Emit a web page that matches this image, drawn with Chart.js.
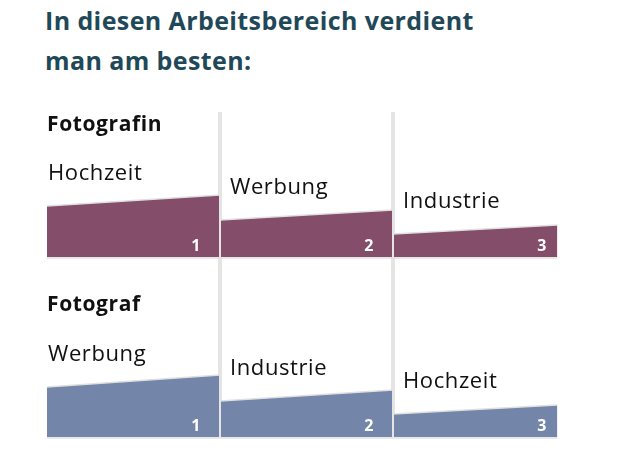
<!DOCTYPE html>
<html>
<head>
<meta charset="utf-8">
<script src="https://cdn.jsdelivr.net/npm/chart.js@4.4.1/dist/chart.umd.min.js"></script>
<style>
  html, body { margin: 0; padding: 0; background: #fff; }
  .wrap { position: relative; width: 618px; height: 456px; }
  h1 { position: absolute; left: 45px; top: 0; margin: 0; font: bold 25px/40px "Open Sans", sans-serif; letter-spacing: 0.4px; color: #1f4858; }
  canvas { position: absolute; left: 0; top: 0; }
</style>
</head>
<body>
<div class="wrap">
  <h1>In diesen Arbeitsbereich verdient<br>man am besten:</h1>
  <canvas id="rankChart" width="618" height="456"></canvas>
</div>
<script>
// Daten
const panels = ["Fotografin", "Fotograf"];
const bereicheFotografin = ["Hochzeit", "Werbung", "Industrie"];
const bereicheFotograf = ["Werbung", "Industrie", "Hochzeit"];
const raenge = ["1", "2", "3"];
const spaltenStart = [0, 1, 2];
const spaltenEnde = [1, 2, 2.95];
const fotografinLinks = [51, 37, 23];
const fotografinRechts = [62, 47, 32];
const fotografLinks = [50, 36, 23];
const fotografRechts = [62, 47, 32];
const farben = ["#844d6a", "#7485aa"];

const panelDaten = [
  { name: panels[0], bereiche: bereicheFotografin, links: fotografinLinks, rechts: fotografinRechts, achse: "yOben", farbe: farben[0] },
  { name: panels[1], bereiche: bereicheFotograf, links: fotografLinks, rechts: fotografRechts, achse: "yUnten", farbe: farben[1] },
];

const datasets = [];
panelDaten.forEach((p) => {
  spaltenStart.forEach((start, i) => {
    datasets.push({
      data: [{ x: start, y: p.links[i] }, { x: spaltenEnde[i], y: p.rechts[i] }],
      yAxisID: p.achse,
      fill: "origin",
      backgroundColor: p.farbe,
      borderColor: "#e0e0e0",
      borderWidth: 1.5,
      pointRadius: 0,
      tension: 0,
    });
  });
});

const trenner = (ctx, x, top, bottom, breite) => {
  ctx.save();
  ctx.strokeStyle = "#e4e4e4";
  ctx.lineWidth = breite;
  ctx.beginPath();
  ctx.moveTo(x, top);
  ctx.lineTo(x, bottom);
  ctx.stroke();
  ctx.restore();
};

// Beschriftungen und Trennlinien
const beschriftung = {
  id: "beschriftung",
  beforeDatasetsDraw(chart) {
    const { ctx, chartArea, scales } = chart;
    [1, 2].forEach((v) => trenner(ctx, scales.x.getPixelForValue(v), chartArea.top, chartArea.bottom, 4));
  },
  afterDatasetsDraw(chart) {
    const { ctx, chartArea, scales } = chart;
    const xs = scales.x;
    [1, 2].forEach((v) => trenner(ctx, xs.getPixelForValue(v), chartArea.top, chartArea.bottom, 2));

    panelDaten.forEach((p) => {
      const ys = scales[p.achse];
      const basis = ys.getPixelForValue(0);

      // Grundlinie
      ctx.save();
      ctx.strokeStyle = "#e0e0e0";
      ctx.lineWidth = 1.5;
      ctx.beginPath();
      ctx.moveTo(xs.getPixelForValue(spaltenStart[0]), basis + 1);
      ctx.lineTo(xs.getPixelForValue(spaltenEnde[2]), basis + 1);
      ctx.stroke();

      // Überschrift
      ctx.fillStyle = "#111";
      ctx.textBaseline = "alphabetic";
      ctx.textAlign = "left";
      ctx.letterSpacing = "0.6px";
      ctx.font = "bold 21px 'Open Sans'";
      ctx.fillText(p.name, xs.getPixelForValue(0), basis - 126);

      spaltenStart.forEach((start, i) => {
        ctx.fillStyle = "#111";
        ctx.textAlign = "left";
        ctx.letterSpacing = "0.6px";
        ctx.font = "22px 'Open Sans'";
        ctx.fillText(p.bereiche[i], xs.getPixelForValue(start) + (i ? 10 : 1), ys.getPixelForValue(p.links[i]) - 26);

        ctx.fillStyle = "#fff";
        ctx.textAlign = "center";
        ctx.letterSpacing = "0px";
        ctx.font = "bold 16px 'Open Sans'";
        ctx.fillText(raenge[i], xs.getPixelForValue(start + 0.86), basis - 6);
      });
      ctx.restore();
    });
  },
};

new Chart(document.getElementById("rankChart").getContext("2d"), {
  type: "line",
  data: { datasets },
  options: {
    responsive: false,
    animation: false,
    events: [],
    layout: { padding: { left: 47, right: 52, top: 112, bottom: 19 } },
    plugins: { legend: { display: false }, tooltip: { enabled: false } },
    scales: {
      x: { type: "linear", min: 0, max: 3, display: false },
      yOben: { type: "linear", min: -180, max: 145, display: false },
      yUnten: { type: "linear", min: 0, max: 325, display: false },
    },
  },
  plugins: [beschriftung],
});
</script>
</body>
</html>
